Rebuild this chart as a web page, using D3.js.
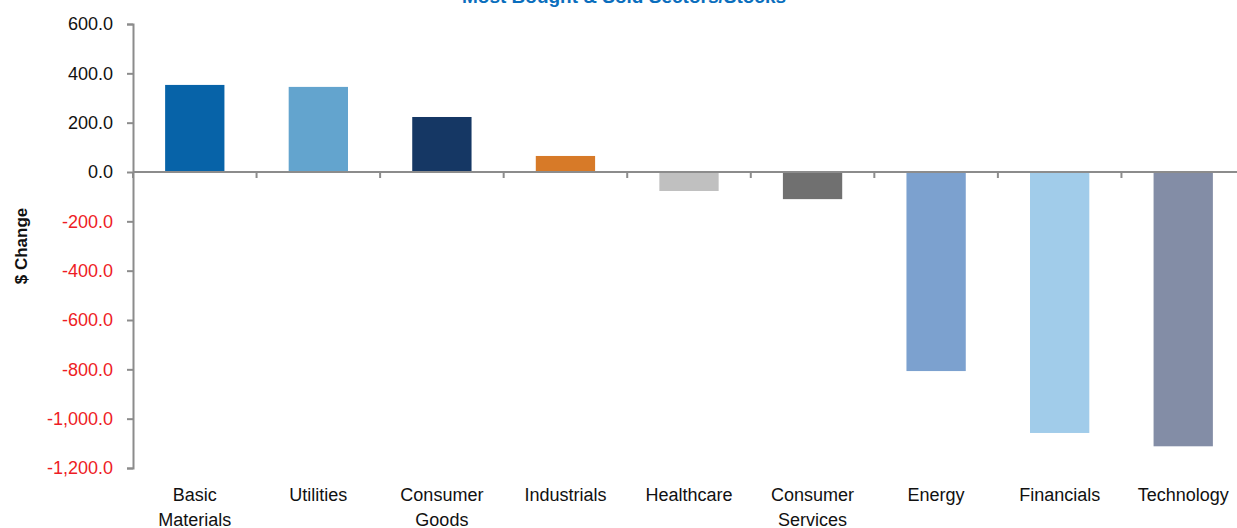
<!DOCTYPE html>
<html>
<head>
<meta charset="utf-8">
<script src="https://cdn.jsdelivr.net/npm/d3@7"></script>
<style>
  body { margin: 0; background: #fff; }
  text { font-family: "Liberation Sans", Arial, sans-serif; }
</style>
</head>
<body>
<div id="chart"></div>
<script>
// Sector names and net $ change.
const categories = ["Basic Materials", "Utilities", "Consumer Goods", "Industrials", "Healthcare",
                    "Consumer Services", "Energy", "Financials", "Technology"];
const values = [353, 345, 223, 65, -77, -110, -807, -1058, -1112];
const barColors = ["#0763a8", "#63a4ce", "#153764", "#d77a28", "#c0c0c0",
                   "#707070", "#7ca1cf", "#a1ccea", "#838da6"];
const yTicks = [600, 400, 200, 0, -200, -400, -600, -800, -1000, -1200];

const w = 1237, h = 528;
const axisColor = "#8c8c8c";

let svg = d3.select("#chart")
            .append("svg")
            .attr("width", w)
            .attr("height", h);

// Scales: the plot runs a bit past the right edge of the canvas, as in the original.
const x = d3.scaleBand()
            .domain(categories)
            .range([133, 1245])
            .paddingInner(0.52)
            .paddingOuter(0.26);
const y = d3.scaleLinear()
            .domain([-1200, 600])
            .range([468, 24]);

// Title, mostly clipped at the top.
svg.append("text")
    .attr("x", 624)
    .attr("y", 3)
    .attr("text-anchor", "middle")
    .attr("font-size", 19)
    .attr("font-weight", "bold")
    .attr("fill", "#0a6ebd")
    .text("Most Bought & Sold Sectors/Stocks");

// Bars.
svg.selectAll("rect.bar")
    .data(values)
    .enter()
    .append("rect")
    .attr("class", "bar")
    .attr("x", (d, i) => x(categories[i]))
    .attr("y", d => y(Math.max(0, d)))
    .attr("width", x.bandwidth())
    .attr("height", d => Math.abs(y(d) - y(0)))
    .attr("fill", (d, i) => barColors[i]);

// Y axis.
const fmt = d3.format(",.1f");
const yAxis = d3.axisLeft(y)
                .tickValues(yTicks)
                .tickSize(6)
                .tickPadding(14)
                .tickFormat(d => fmt(d).replace("\u2212", "-"));

const yg = svg.append("g")
    .attr("transform", "translate(133,0)")
    .call(yAxis);
yg.select(".domain").attr("stroke", axisColor).attr("stroke-width", 2);
yg.selectAll(".tick line").attr("stroke", axisColor).attr("stroke-width", 2);
yg.selectAll(".tick text")
    .attr("font-size", 18)
    .attr("fill", d => d < 0 ? "#ee1c25" : "#111");

// Zero line with tick marks between categories.
svg.append("line")
    .attr("x1", 133).attr("x2", w)
    .attr("y1", y(0)).attr("y2", y(0))
    .attr("stroke", axisColor)
    .attr("stroke-width", 2);

const step = x.step();
svg.selectAll("line.xtick")
    .data(d3.range(categories.length + 1))
    .enter()
    .append("line")
    .attr("class", "xtick")
    .attr("x1", i => x.range()[0] + i * step)
    .attr("x2", i => x.range()[0] + i * step)
    .attr("y1", y(0))
    .attr("y2", y(0) + 6)
    .attr("stroke", axisColor)
    .attr("stroke-width", 2);

// Category labels below the plot, wrapped onto two lines.
const labels = svg.selectAll("text.cat")
    .data(categories)
    .enter()
    .append("text")
    .attr("class", "cat")
    .attr("text-anchor", "middle")
    .attr("font-size", 18)
    .attr("fill", "#111");
labels.each(function (d) {
    const words = d.split(" ");
    const cx = x(d) + x.bandwidth() / 2;
    words.forEach((word, k) => {
        d3.select(this).append("tspan")
            .attr("x", cx)
            .attr("y", 501 + k * 25)
            .text(word);
    });
});

// Y axis title.
svg.append("text")
    .attr("transform", "translate(27,246) rotate(-90)")
    .attr("text-anchor", "middle")
    .attr("font-size", 17)
    .attr("font-weight", "bold")
    .attr("fill", "#111")
    .text("$ Change");
</script>
</body>
</html>
